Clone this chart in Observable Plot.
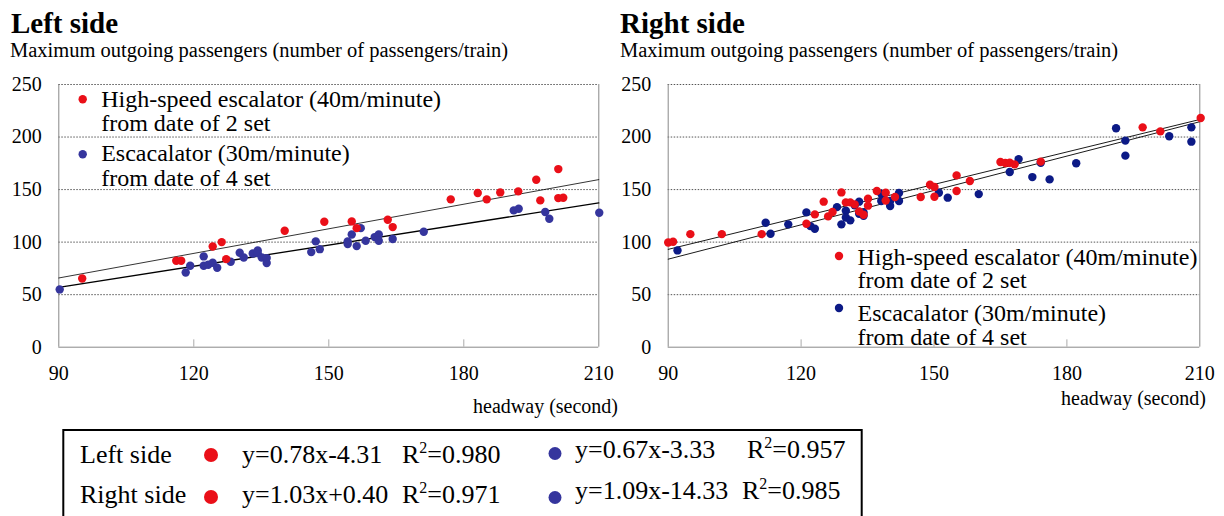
<!DOCTYPE html>
<html><head><meta charset="utf-8">
<script src="https://cdn.jsdelivr.net/npm/d3@7"></script>
<script src="https://cdn.jsdelivr.net/npm/@observablehq/plot@0.6"></script>
<style>
html,body{margin:0;padding:0;background:#fff;}
#root{position:relative;width:1224px;height:516px;overflow:hidden;font-family:"Liberation Serif","Times New Roman",serif;}
#root svg{position:absolute;}
</style></head><body><div id="root"></div>
<script>
// ---------- data ----------
const xTicks = [90, 120, 150, 180, 210];
const yTicks = [0, 50, 100, 150, 200, 250];

const leftRedX = [95.2,116.1,117.2,124.2,126.2,127.2,140.2,149.0,155.1,156.2,163.1,164.2,177.1,183.1,185.1,188.1,192.1,196.1,197.0,201.0,201.0,202.1];
const leftRedY = [65.4,82.3,82.3,95.9,100,83.8,110.8,119.4,119.7,113.3,121.3,114.3,140.7,146.7,140.7,147.3,148.3,159.4,139.7,169.5,141.9,142.2];

const leftBlueX = [90.2,118.2,119.2,122.2,122.2,123.2,124.2,125.2,128.2,130.2,131.1,133.1,134.2,134.2,135.1,136.2,136.2,146.1,147.1,148.0,154.2,154.2,155.1,156.2,157.1,158.2,160.2,161.1,161.1,164.2,171.1,191.1,192.2,198.1,199.0,210.1];
const leftBlueY = [55,71.1,77.5,86.4,77.5,78.5,80.4,75.6,81.3,89.9,85.4,89.2,92.1,89.5,85.4,84.8,80.1,90.5,100.7,93.3,100.7,98.2,107.3,96.2,113.3,101.3,104.8,107.3,101.3,102.9,109.9,130.2,131.8,128.6,122.3,128];

const rightRedX = [90,91.1,95.0,102.1,111.1,121.2,123.1,125.1,126.1,127.1,129.1,130.1,131.1,132.1,133.1,134.1,135.1,135.1,137.1,139.1,139.1,141.2,147.0,149.1,150.1,150.1,155.1,155.1,158.1,165.0,166.1,167.1,168.2,174.1,197.1,201.1,210.2];
const rightRedY = [99.7,100.4,107.6,107.6,107.6,117.5,126.4,138.5,124.5,128.6,147.3,137.8,137.8,135.9,129.2,126.1,141.3,134.7,148.6,147,139.5,142.9,142.9,154.6,152.4,143.2,163.5,148.6,158.1,176.2,175.3,175.6,174,176.6,209.2,205.4,218.1];

const rightBlueX = [92.1,112.0,113.1,117.1,121.2,122.1,123.1,128.1,129.1,130.1,130.1,131.1,132.1,133.1,133.1,134.1,134.1,138.1,138.1,140.1,140.1,142.1,142.1,151.1,153.1,160.1,167.1,169.1,172.2,174.1,176.1,182.1,191.1,193.2,193.2,203.1,208.1,208.1];
const rightBlueY = [92.1,118.5,108,116.9,128.3,115.2,112.7,133.3,116.9,129.9,123.5,120.7,135,138.5,127,125.1,128.3,146.1,139.2,134.3,139.2,146.7,139.2,147,142.3,145.7,166.7,179,161.9,175.6,159.7,175,208.3,196.6,182.3,200.7,209.2,195.6];

// regression coefficients [slope, intercept]
const leftRedFit = [0.78, -4.31];
const leftBlueFit = [0.67, -3.33];
const rightRedFit = [1.03, 0.40];
const rightBlueFit = [1.09, -14.33];

const panelTitles = ["Left side", "Right side"];
const yTitle = "Maximum outgoing passengers (number of passengers/train)";
const xTitle = "headway (second)";
const legendLines = [["High-speed escalator (40m/minute)", "from date of 2 set"], ["Escacalator (30m/minute)", "from date of 4 set"]];
const boxRows = [
  {label: "Left side", redEq: "y=0.78x-4.31", redR: "0.980", blueEq: "y=0.67x-3.33", blueR: "0.957"},
  {label: "Right side", redEq: "y=1.03x+0.40", redR: "0.971", blueEq: "y=1.09x-14.33", blueR: "0.985"}
];

const RED = "#ea0f18";
const BLUE_L = "#35359d";
const BLUE_R = "#0c1a86";

// ---------- panels ----------
const root = document.getElementById("root");
function panel({redX, redY, blueX, blueY, redFit, blueFit, blueColor, marginLeft, marginRight, redW, blueW}) {
  const red = redX.map((x, i) => ({x, y: redY[i]}));
  const blue = blueX.map((x, i) => ({x, y: blueY[i]}));
  const dom = [xTicks[0], xTicks[xTicks.length - 1]];
  const fit = f => dom.map(x => ({x, y: f[0] * x + f[1]}));
  return Plot.plot({
    width: 612, height: 420,
    marginTop: 84, marginBottom: 73.3, marginLeft, marginRight,
    style: {fontFamily: "Liberation Serif, Times New Roman, serif", fontSize: "20px", color: "#000", background: "transparent", overflow: "visible"},
    x: {domain: dom},
    y: {domain: [yTicks[0], yTicks[yTicks.length - 1]]},
    marks: [
      Plot.ruleY(yTicks.slice(1), {stroke: "#555", strokeDasharray: "1.5,1.5", strokeWidth: 1}),
      Plot.ruleY([0], {stroke: "#888"}),
      Plot.ruleX(dom, {stroke: "#888"}),
      Plot.ruleX(xTicks.slice(1, -1), {y1: 0, y2: 7, stroke: "#aaa"}),
      Plot.axisX(xTicks, {tickSize: 0, tickPadding: 19, label: null, fontSize: 20}),
      Plot.axisY(yTicks, {tickSize: 0, tickPadding: 17, label: null, fontSize: 20}),
      Plot.line(fit(redFit), {x: "x", y: "y", stroke: "#000", strokeWidth: redW}),
      Plot.line(fit(blueFit), {x: "x", y: "y", stroke: "#000", strokeWidth: blueW}),
      Plot.dot(blue, {x: "x", y: "y", r: 4.2, fill: blueColor}),
      Plot.dot(red, {x: "x", y: "y", r: 4.2, fill: RED})
    ]
  });
}

const left = panel({redX: leftRedX, redY: leftRedY, blueX: leftBlueX, blueY: leftBlueY, redFit: leftRedFit, blueFit: leftBlueFit, blueColor: BLUE_L, marginLeft: 58.3, marginRight: 13.7, redW: 0.8, blueW: 1.3});
left.style.left = "0px"; left.style.top = "0px";
root.appendChild(left);

const right = panel({redX: rightRedX, redY: rightRedY, blueX: rightBlueX, blueY: rightBlueY, redFit: rightRedFit, blueFit: rightBlueFit, blueColor: BLUE_R, marginLeft: 55.7, marginRight: 24.7, redW: 0.9, blueW: 0.9});
right.style.left = "612px"; right.style.top = "0px";
root.appendChild(right);

// ---------- overlay text ----------
const svg = d3.select(root).append("svg")
  .attr("width", 1224).attr("height", 516)
  .style("left", "0px").style("top", "0px")
  .style("font-family", "Liberation Serif, Times New Roman, serif");

function txt(x, y, s, size, opts = {}) {
  const t = svg.append("text").attr("x", x).attr("y", y).attr("font-size", size).attr("fill", "#000").text(s);
  if (opts.bold) t.attr("font-weight", "bold");
  if (opts.anchor) t.attr("text-anchor", opts.anchor);
  return t;
}

// titles
txt(11, 33, panelTitles[0], 29, {bold: true});
txt(10, 57, yTitle, 20.5);
txt(620, 33, panelTitles[1], 29, {bold: true});
txt(620, 57, yTitle, 20.5);
txt(618, 413, xTitle, 20, {anchor: "end"});
txt(1206, 405, xTitle, 20, {anchor: "end"});

// in-plot legends
function legend(dx, lines, dots, blueColor) {
  svg.append("circle").attr("cx", dx).attr("cy", dots[0]).attr("r", 4.2).attr("fill", RED);
  svg.append("circle").attr("cx", dx).attr("cy", dots[1]).attr("r", 4.2).attr("fill", blueColor);
  legendLines.flat().forEach((s, i) => txt(dx + 18.5, lines[i], s, 24));
}
legend(82.7, [107, 131, 161, 185.5], [99.3, 154.3], BLUE_L);
legend(839, [264.5, 288, 320.5, 344.5], [256, 308], BLUE_R);

// bottom equation box
svg.append("rect").attr("x", 63.3).attr("y", 430).attr("width", 798.4).attr("height", 120)
  .attr("fill", "none").attr("stroke", "#000").attr("stroke-width", 2);
const rowBase = [[463, 458], [503, 499]];
const rowDot = [[455, 453.5], [497, 497.5]];
boxRows.forEach((r, i) => {
  txt(80, rowBase[i][0], r.label, 26);
  svg.append("circle").attr("cx", 211).attr("cy", rowDot[i][0]).attr("r", 7).attr("fill", RED);
  txt(242, rowBase[i][0], r.redEq, 26);
  const t1 = txt(402, rowBase[i][0], "R", 26);
  t1.append("tspan").attr("font-size", 16).attr("dy", -10).text("2");
  t1.append("tspan").attr("dy", 10).text("=" + r.redR);
  svg.append("circle").attr("cx", 555).attr("cy", rowDot[i][1]).attr("r", 6.5).attr("fill", BLUE_L);
  txt(575, rowBase[i][1], r.blueEq, 26);
  const t2 = txt(i === 0 ? 747 : 742, rowBase[i][1], "R", 26);
  t2.append("tspan").attr("font-size", 16).attr("dy", -10).text("2");
  t2.append("tspan").attr("dy", 10).text("=" + r.blueR);
});
</script></body></html>
